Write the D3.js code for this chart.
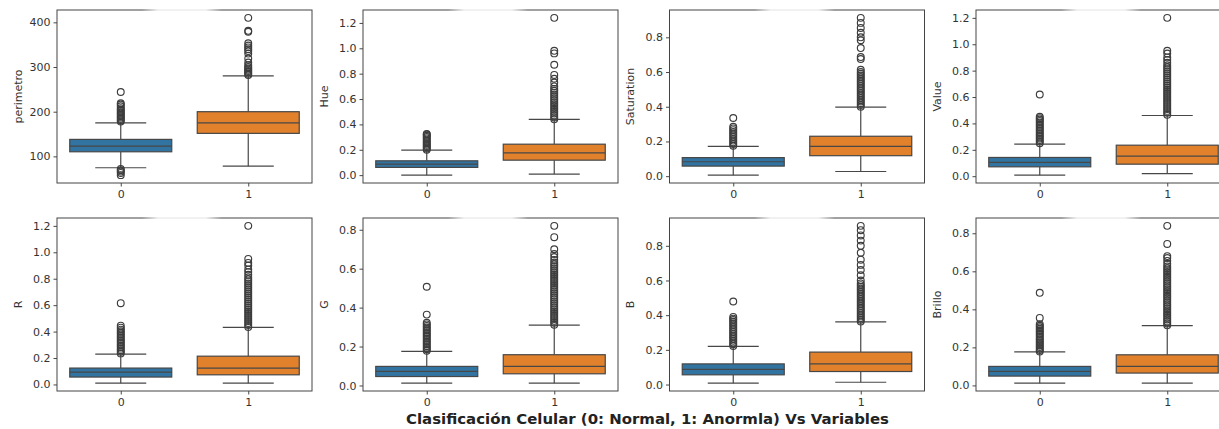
<!DOCTYPE html>
<html>
<head>
<meta charset="utf-8">
<script src="https://cdn.jsdelivr.net/npm/d3@7"></script>
<style>
  body { margin: 0; background: #fff; }
  svg { display: block; font-family: "DejaVu Sans", sans-serif; }
</style>
</head>
<body>
<svg width="1219" height="429"></svg>
<script>
const width = 1219;
const height = 429;

const variables = ["perimetro", "Hue", "Saturation", "Value", "R", "G", "B", "Brillo"];
const classes = ["0", "1"];
const colors = ["#3274a1", "#e1812c"];

// box stats per variable: [q1, median, q3, lower whisker, upper whisker] for class 0 and class 1
const stats0 = [
    [110.3, 123, 138, 74.5, 175],
    [0.061, 0.087, 0.113, 0.0, 0.197],
    [0.058, 0.083, 0.107, 0.006, 0.172],
    [0.071, 0.104, 0.142, 0.008, 0.243],
    [0.056, 0.094, 0.124, 0.010, 0.229],
    [0.046, 0.072, 0.098, 0.012, 0.175],
    [0.056, 0.087, 0.119, 0.008, 0.220],
    [0.049, 0.074, 0.100, 0.012, 0.176]
];
const stats1 = [
    [151.5, 175, 200, 78, 280],
    [0.118, 0.176, 0.244, 0.008, 0.439],
    [0.118, 0.172, 0.230, 0.027, 0.398],
    [0.091, 0.152, 0.235, 0.020, 0.460],
    [0.073, 0.124, 0.214, 0.010, 0.432],
    [0.060, 0.098, 0.158, 0.012, 0.310],
    [0.075, 0.119, 0.187, 0.013, 0.361],
    [0.065, 0.100, 0.161, 0.012, 0.314]
];

// outliers
const outliers0 = [
    [58, 63, 66, 69, 72, 178, 181, 184, 187, 190, 193, 196, 199, 202, 205, 208, 212, 216, 219, 244],
    [0.20, 0.21, 0.22, 0.23, 0.24, 0.25, 0.26, 0.27, 0.28, 0.29, 0.30, 0.31, 0.32, 0.325],
    [0.175, 0.185, 0.195, 0.205, 0.215, 0.225, 0.235, 0.245, 0.255, 0.265, 0.275, 0.285, 0.335],
    [0.25, 0.262, 0.274, 0.286, 0.298, 0.31, 0.322, 0.334, 0.346, 0.358, 0.37, 0.382, 0.394, 0.406, 0.418, 0.43, 0.44, 0.45, 0.619],
    [0.235, 0.247, 0.259, 0.271, 0.283, 0.295, 0.307, 0.319, 0.331, 0.343, 0.355, 0.367, 0.379, 0.391, 0.403, 0.415, 0.43, 0.445, 0.615],
    [0.178, 0.186, 0.194, 0.202, 0.21, 0.218, 0.226, 0.234, 0.242, 0.25, 0.258, 0.266, 0.274, 0.282, 0.29, 0.298, 0.306, 0.314, 0.322, 0.364, 0.507],
    [0.222, 0.232, 0.242, 0.252, 0.262, 0.272, 0.282, 0.292, 0.302, 0.312, 0.322, 0.332, 0.342, 0.352, 0.362, 0.372, 0.38, 0.39, 0.479],
    [0.178, 0.186, 0.194, 0.202, 0.21, 0.218, 0.226, 0.234, 0.242, 0.25, 0.258, 0.266, 0.274, 0.282, 0.29, 0.298, 0.306, 0.314, 0.322, 0.355, 0.487]
];
const outliers1 = [
    [282, 285, 288, 291, 294, 297, 300, 304, 310, 319, 330, 336, 340, 344, 348, 353, 379, 381, 410],
    [0.44, 0.455, 0.47, 0.485, 0.50, 0.515, 0.53, 0.545, 0.56, 0.575, 0.59, 0.605, 0.62, 0.635, 0.65, 0.665, 0.68, 0.70, 0.73, 0.76, 0.79, 0.87, 0.96, 0.98, 1.24],
    [0.40, 0.41, 0.42, 0.43, 0.44, 0.45, 0.46, 0.47, 0.48, 0.49, 0.50, 0.51, 0.52, 0.53, 0.54, 0.55, 0.56, 0.57, 0.58, 0.59, 0.60, 0.613, 0.675, 0.686, 0.738, 0.783, 0.80, 0.826, 0.854, 0.883, 0.912],
    [0.465, 0.48, 0.495, 0.51, 0.525, 0.54, 0.555, 0.57, 0.585, 0.60, 0.615, 0.63, 0.645, 0.66, 0.675, 0.69, 0.705, 0.72, 0.735, 0.75, 0.765, 0.78, 0.795, 0.81, 0.825, 0.84, 0.86, 0.88, 0.90, 0.93, 0.95, 1.2],
    [0.435, 0.45, 0.465, 0.48, 0.495, 0.51, 0.525, 0.54, 0.555, 0.57, 0.585, 0.60, 0.615, 0.63, 0.645, 0.66, 0.675, 0.69, 0.705, 0.72, 0.735, 0.75, 0.765, 0.78, 0.795, 0.81, 0.83, 0.85, 0.87, 0.90, 0.92, 0.95, 1.2],
    [0.312, 0.322, 0.332, 0.342, 0.352, 0.362, 0.372, 0.382, 0.392, 0.402, 0.412, 0.422, 0.432, 0.442, 0.452, 0.462, 0.472, 0.482, 0.492, 0.502, 0.512, 0.522, 0.532, 0.542, 0.552, 0.562, 0.572, 0.582, 0.592, 0.602, 0.612, 0.622, 0.632, 0.645, 0.66, 0.675, 0.70, 0.762, 0.82],
    [0.363, 0.373, 0.383, 0.393, 0.403, 0.413, 0.423, 0.433, 0.443, 0.453, 0.463, 0.473, 0.483, 0.493, 0.503, 0.513, 0.523, 0.533, 0.543, 0.553, 0.563, 0.573, 0.583, 0.60, 0.63, 0.66, 0.69, 0.72, 0.76, 0.80, 0.83, 0.86, 0.89, 0.915],
    [0.316, 0.326, 0.336, 0.346, 0.356, 0.366, 0.376, 0.386, 0.396, 0.406, 0.416, 0.426, 0.436, 0.446, 0.456, 0.466, 0.476, 0.486, 0.496, 0.506, 0.516, 0.526, 0.536, 0.546, 0.556, 0.566, 0.576, 0.586, 0.596, 0.606, 0.616, 0.626, 0.64, 0.655, 0.67, 0.68, 0.744, 0.839]
];

const yTicks = [
    [100, 200, 300, 400],
    [0.0, 0.2, 0.4, 0.6, 0.8, 1.0, 1.2],
    [0.0, 0.2, 0.4, 0.6, 0.8],
    [0.0, 0.2, 0.4, 0.6, 0.8, 1.0, 1.2],
    [0.0, 0.2, 0.4, 0.6, 0.8, 1.0, 1.2],
    [0.0, 0.2, 0.4, 0.6, 0.8],
    [0.0, 0.2, 0.4, 0.6, 0.8],
    [0.0, 0.2, 0.4, 0.6, 0.8]
];

const title = "Clasificación Celular (0: Normal, 1: Anormla) Vs Variables";

const panelLefts = [57, 363, 669.5, 976];
const panelTops = [10, 218];
const panelW = 255;
const panelH = 173;
const lineColor = "#474747";

const svg = d3.select('svg');

// faded patch on the top spine, as seen in the source image
const defs = svg.append('defs');
const grad = defs.append('linearGradient').attr('id', 'fade');
grad.append('stop').attr('offset', '0%').attr('stop-color', '#fff').attr('stop-opacity', 0);
grad.append('stop').attr('offset', '20%').attr('stop-color', '#fff').attr('stop-opacity', 0.85);
grad.append('stop').attr('offset', '80%').attr('stop-color', '#fff').attr('stop-opacity', 0.85);
grad.append('stop').attr('offset', '100%').attr('stop-color', '#fff').attr('stop-opacity', 0);

variables.forEach((name, i) => {
    const col = i % 4, row = Math.floor(i / 4);
    const g = svg.append('g').attr('transform', `translate(${panelLefts[col]},${panelTops[row]})`);

    const groups = [
        {cls: classes[0], s: stats0[i], out: outliers0[i], color: colors[0]},
        {cls: classes[1], s: stats1[i], out: outliers1[i], color: colors[1]}
    ];
    const allVals = groups.flatMap(d => [d.s[3], d.s[4], ...d.out]);
    const lo = d3.min(allVals), hi = d3.max(allVals);
    const pad = (hi - lo) * 0.05;

    const y = d3.scaleLinear().domain([lo - pad, hi + pad]).range([panelH, 0]);
    const x = d3.scaleLinear().domain([-0.5, 1.5]).range([0, panelW]);
    const boxW = (x(1) - x(0)) * 0.8;

    const fmt = name === "perimetro" ? d3.format("d") : d3.format(".1f");
    const yAxis = g.append('g').call(d3.axisLeft(y).tickValues(yTicks[i]).tickFormat(fmt).tickSize(3.5).tickPadding(3));
    const xAxis = g.append('g').attr('transform', `translate(0,${panelH})`)
        .call(d3.axisBottom(x).tickValues([0, 1]).tickFormat(d => classes[d]).tickSize(3.5).tickPadding(4));
    [yAxis, xAxis].forEach(a => {
        a.select('.domain').remove();
        a.selectAll('line').attr('stroke', '#333').attr('stroke-width', 0.9);
        a.selectAll('text').attr('fill', '#333').style('font-size', '11px').style('font-family', '"DejaVu Sans", sans-serif');
    });

    g.append('text')
        .attr('transform', `translate(-39,${panelH / 2}) rotate(-90)`)
        .attr('text-anchor', 'middle')
        .attr('dy', '0.35em')
        .attr('fill', '#333')
        .style('font-size', '11px')
        .text(name);

    groups.forEach((d, k) => {
        const cx = x(k);
        const [q1, med, q3, wl, wh] = d.s;
        const bg = g.append('g');
        bg.append('line').attr('x1', cx).attr('x2', cx).attr('y1', y(q3)).attr('y2', y(wh));
        bg.append('line').attr('x1', cx).attr('x2', cx).attr('y1', y(q1)).attr('y2', y(wl));
        bg.append('line').attr('x1', cx - boxW / 4).attr('x2', cx + boxW / 4).attr('y1', y(wh)).attr('y2', y(wh));
        bg.append('line').attr('x1', cx - boxW / 4).attr('x2', cx + boxW / 4).attr('y1', y(wl)).attr('y2', y(wl));
        bg.append('rect')
            .attr('x', cx - boxW / 2).attr('width', boxW)
            .attr('y', y(q3)).attr('height', y(q1) - y(q3))
            .attr('fill', d.color);
        bg.append('line').attr('x1', cx - boxW / 2).attr('x2', cx + boxW / 2).attr('y1', y(med)).attr('y2', y(med));
        bg.selectAll('line, rect').attr('stroke', lineColor).attr('stroke-width', 1.2);

        bg.selectAll('circle.flier')
            .data(d.out)
            .join('circle')
            .classed('flier', true)
            .attr('cx', cx)
            .attr('cy', v => y(v))
            .attr('r', 3.4)
            .attr('fill', 'none')
            .attr('stroke', '#3d3d3d')
            .attr('stroke-width', 1.15);
    });

    g.append('rect')
        .attr('width', panelW).attr('height', panelH)
        .attr('fill', 'none').attr('stroke', '#444').attr('stroke-width', 1);

    g.append('rect')
        .attr('x', 85).attr('y', -1.5).attr('width', 80).attr('height', 3)
        .attr('fill', 'url(#fade)');
});

svg.append('text')
    .attr('x', 647.5).attr('y', 424)
    .attr('text-anchor', 'middle')
    .attr('fill', '#222')
    .attr('textLength', 483)
    .attr('lengthAdjust', 'spacingAndGlyphs')
    .style('font-size', '14px')
    .style('font-weight', 'bold')
    .text(title);
</script>
</body>
</html>
